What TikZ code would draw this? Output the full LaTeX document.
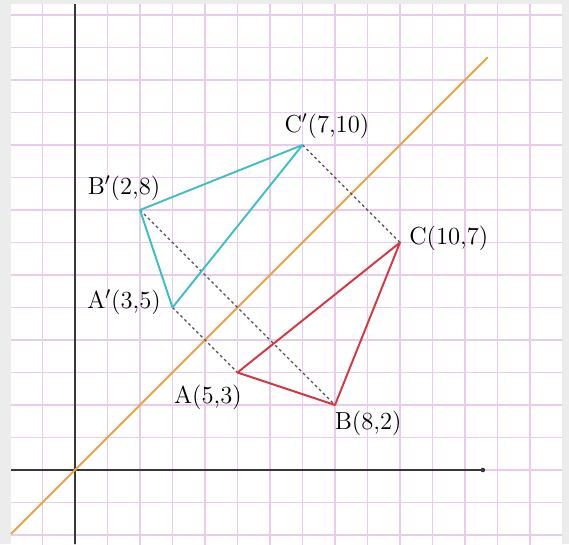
\documentclass[tikz,border=0pt]{standalone}
\usetikzlibrary{arrows.meta}
\definecolor{bggray}{RGB}{236,236,236}
\definecolor{gridpink}{RGB}{232,204,234}
\definecolor{axisgray}{RGB}{55,55,55}
\definecolor{orangeline}{RGB}{232,166,70}
\definecolor{cyanline}{RGB}{62,190,200}
\definecolor{redline}{RGB}{214,52,62}
\definecolor{dashgray}{RGB}{80,80,80}
\tikzset{
  gridline/.style={draw=gridpink, line width=0.75pt},
  axisline/.style={draw=axisgray, line width=1.1pt},
  mirror/.style={draw=orangeline, line width=1.1pt},
  imagetri/.style={draw=cyanline, line width=1.1pt, line join=round},
  origtri/.style={draw=redline, line width=1.1pt, line join=round},
  proj/.style={draw=dashgray, line width=0.7pt, dash pattern=on 1.6pt off 1.6pt},
  lbl/.style={font=\fontsize{14}{16}\selectfont, inner sep=0pt}
}
\begin{document}
\begin{tikzpicture}[x=0.65cm, y=0.65cm]
% background and paper
\fill[bggray] (-2.3077,-2.2769) rectangle (15.2,14.4615);
\fill[white] (-1.969,-2.2769) rectangle (14.985,14.338);
\useasboundingbox (-2.3077,-2.2769) rectangle (15.2,14.4615);
% grid
\begin{scope}
\clip (-1.969,-2.2769) rectangle (14.985,14.338);
\foreach \i in {-2,...,15} \draw[gridline] (\i,-2.3) -- (\i,14.4);
\foreach \j in {-2,...,14} \draw[gridline] (-2,\j) -- (15,\j);
\end{scope}
% axes
\coordinate (O) at (0,0);
\coordinate (xs) at (-1.969,0);
\coordinate (xe) at (12.55,0);
\coordinate (ys) at (0,-2.2769);
\coordinate (ye) at (0,14.338);
\draw[axisline] (xs) -- (xe);
\fill[axisgray] (xe) circle (0.07);
\draw[axisline] (ys) -- (ye);
% mirror line y = x
\coordinate (m1) at (-1.97,-1.97);
\coordinate (m2) at (12.7,12.7);
\draw[mirror] (m1) -- (m2);
% vertices
\coordinate (A) at (5,3);
\coordinate (B) at (8,2);
\coordinate (C) at (10,7);
\coordinate (A1) at (3,5);
\coordinate (B1) at (2,8);
\coordinate (C1) at (7,10);
% projection lines
\draw[proj] (C1) -- (C);
\draw[proj] (B1) -- (B);
\draw[proj] (A1) -- (A);
% triangles
\draw[imagetri] (A1) -- (B1) -- (C1) -- cycle;
\draw[origtri] (A) -- (B) -- (C) -- cycle;
% labels
\node[lbl] (lC1) at (7.75,10.58) {C$'$(7,10)};
\node[lbl] (lB1) at (1.51,8.68) {B$'$(2,8)};
\node[lbl] (lA1) at (1.51,5.17) {A$'$(3,5)};
\node[lbl] (lA) at (4.09,2.22) {A(5,3)};
\node[lbl] (lB) at (9.02,1.45) {B(8,2)};
\node[lbl] (lC) at (11.5,7.14) {C(10,7)};
\end{tikzpicture}
\end{document}
